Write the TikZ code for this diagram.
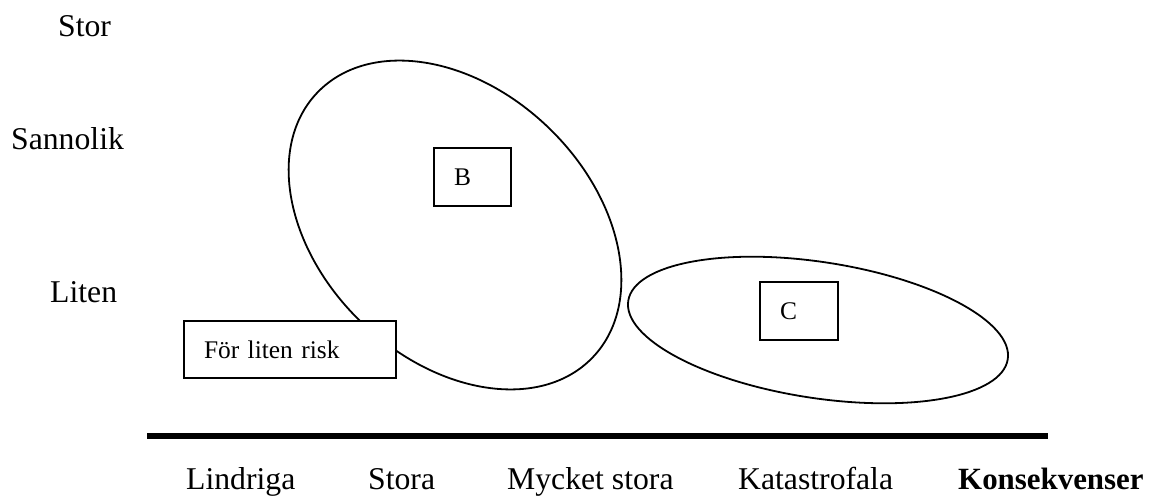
\documentclass[tikz,border=0pt]{standalone}
\usepackage{fontspec}
\setmainfont{Liberation Serif}
\newcommand{\biglabel}{\fontsize{31.7pt}{38pt}\selectfont}
\newcommand{\boldlabel}{\fontsize{30.9pt}{38pt}\selectfont\bfseries}
\newcommand{\smalllabel}{\fontsize{25.4pt}{30pt}\selectfont}
\tikzset{
x=1pt,
y=1pt,
every node/.style={inner sep=0pt},
scalelabel/.style={font=\biglabel, anchor=base west},
riskbox/.style={draw, fill=white, line width=1.6pt, font=\smalllabel, align=left, inner xsep=20pt},
zone/.style={draw, line width=1.8pt},
}

\begin{document}
\begin{tikzpicture}
        \useasboundingbox (0,0) rectangle (1151,496);

        % sannolikhet
        \node[scalelabel] (stor) at (58,459) {Stor};
        \node[scalelabel] (sannolik) at (11,346) {Sannolik};
        \node[scalelabel] (liten) at (50,194) {Liten};

        % zoner
        \draw[zone] (455,271) ellipse [x radius=191, y radius=135, rotate=-44];
        \draw[zone] (818,166) ellipse [x radius=192, y radius=68, rotate=-8.75];

        \node[riskbox, text width=37pt, minimum height=58pt] (b) at (472.5,319) {B};
        \node[riskbox, text width=38pt, minimum height=58pt] (c) at (799,185) {C};
        \node[riskbox, text width=172pt, minimum height=57pt] (forliten) at (290,146.5) {För liten risk};

        % konsekvensaxel
        \coordinate (axstart) at (147,60);
        \coordinate (axend) at (1048,60);
        \draw[line width=6pt] (axstart) -- (axend);

        \node[scalelabel] (lindriga) at (186,7) {Lindriga};
        \node[scalelabel] (stora) at (368,7) {Stora};
        \node[scalelabel] (mycket) at (507,7) {Mycket stora};
        \node[scalelabel] (katastrofala) at (738,7) {Katastrofala};
        \node[scalelabel, font=\boldlabel] (konsekvenser) at (958,7) {Konsekvenser};

    \end{tikzpicture}
\end{document}
